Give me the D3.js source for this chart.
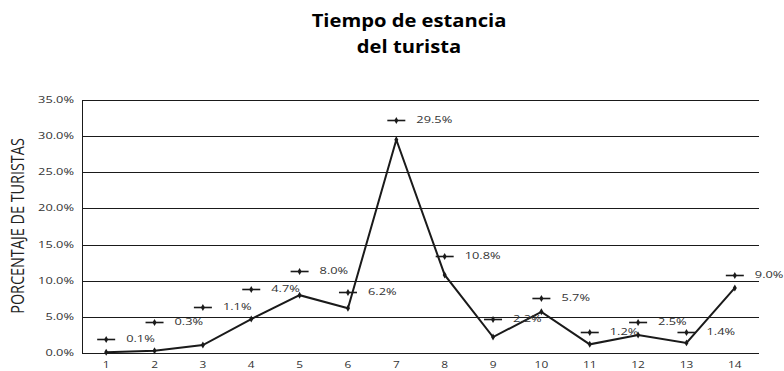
<!DOCTYPE html>
<html>
<head>
<meta charset="utf-8">
<style>
    body { margin: 0; background: #fff; font-family: "Open Sans", sans-serif; }
    .grid line { stroke: #1a1a1a; stroke-width: 1px; }
    .tick-y, .tick-x { font-size: 9.5px; fill: #333; }
    .lbl { font-size: 9.5px; fill: #333; }
</style>
<script src="https://d3js.org/d3.v7.min.js"></script>
</head>
<body>
<script>
    // data
    const dias = ['1','2','3','4','5','6','7','8','9','10','11','12','13','14'];
    const porcentaje = [0.1, 0.3, 1.1, 4.7, 8.0, 6.2, 29.5, 10.8, 2.2, 5.7, 1.2, 2.5, 1.4, 9.0];
    const yTicks = [0, 5, 10, 15, 20, 25, 30, 35];

    // label offsets above each point (px), as placed in the original
    const labelDy = [-13, -29, -38, -30, -24, -16, -20, -19, -18, -14, -12, -13, -11, -13];

    const width = 784, height = 371;
    const plotL = 82, plotR = 759, plotT = 100, plotB = 353;
    const SX = 1.35; // original picture text looks stretched sideways

    const svg = d3.select('body').append('svg')
        .attr('width', width)
        .attr('height', height);

    const x = d3.scalePoint()
        .domain(dias)
        .range([plotL, plotR])
        .padding(0.5);

    const y = d3.scaleLinear()
        .domain([0, 35])
        .range([plotB, plotT]);

    const fmt = v => d3.format('.1f')(v) + '%';

    // title
    svg.append('text')
        .attr('transform', 'translate(409,27) scale(1.12,1)')
        .attr('text-anchor', 'middle')
        .style('font-size', '18px').style('font-weight', 'bold')
        .text('Tiempo de estancia');
    svg.append('text')
        .attr('transform', 'translate(409,53) scale(1.12,1)')
        .attr('text-anchor', 'middle')
        .style('font-size', '18px').style('font-weight', 'bold')
        .text('del turista');

    // gridlines
    const grid = svg.append('g').attr('class', 'grid');
    grid.selectAll('line.h')
        .data(yTicks)
        .join('line')
        .attr('class', 'h')
        .attr('x1', plotL).attr('x2', plotR)
        .attr('y1', d => Math.round(y(d)) + 0.5)
        .attr('y2', d => Math.round(y(d)) + 0.5);
    grid.append('line')
        .attr('x1', plotL + 0.5).attr('x2', plotL + 0.5)
        .attr('y1', plotT).attr('y2', plotB + 1);

    // y tick labels
    svg.selectAll('text.tick-y')
        .data(yTicks)
        .join('text')
        .attr('class', 'tick-y')
        .attr('transform', d => `translate(74,${y(d)}) scale(${SX},1)`)
        .attr('dy', '0.32em')
        .attr('text-anchor', 'end')
        .text(fmt);

    // x tick labels
    svg.selectAll('text.tick-x')
        .data(dias)
        .join('text')
        .attr('class', 'tick-x')
        .attr('transform', d => `translate(${x(d)},368) scale(1.25,1)`)
        .attr('text-anchor', 'middle')
        .text(d => d);

    // y axis title
    svg.append('text')
        .attr('transform', 'translate(24,226) scale(1.3,1) rotate(-90)')
        .attr('text-anchor', 'middle')
        .style('font-size', '14.4px')
        .style('fill', '#222')
        .text('PORCENTAJE DE TURISTAS');

    const diamond = d3.symbol().type(d3.symbolDiamond).size(14);

    // line
    const line = d3.line()
        .x((d, i) => x(dias[i]))
        .y(d => y(d));

    svg.append('path')
        .datum(porcentaje)
        .attr('fill', 'none')
        .attr('stroke', '#1a1a1a')
        .attr('stroke-width', 2)
        .attr('stroke-linejoin', 'miter')
        .attr('d', line);

    svg.selectAll('path.pt')
        .data(porcentaje)
        .join('path')
        .attr('class', 'pt')
        .attr('d', diamond)
        .attr('fill', '#1a1a1a')
        .attr('transform', (d, i) => `translate(${x(dias[i])},${y(d)})`);

    // data labels with legend key
    const lbl = svg.selectAll('g.lbl')
        .data(porcentaje)
        .join('g')
        .attr('transform', (d, i) => `translate(${x(dias[i])},${Math.round(y(d) + labelDy[i])})`);

    lbl.append('line')
        .attr('x1', -9).attr('x2', 9)
        .attr('y1', 0.5).attr('y2', 0.5)
        .attr('stroke', '#1a1a1a')
        .attr('stroke-width', 1.6);
    lbl.append('path')
        .attr('d', diamond)
        .attr('fill', '#1a1a1a')
        .attr('transform', 'translate(0,0.5)');
    lbl.append('text')
        .attr('class', 'lbl')
        .attr('transform', `translate(20,0) scale(${SX},1)`)
        .attr('dy', '0.35em')
        .text(fmt);
</script>
</body>
</html>
